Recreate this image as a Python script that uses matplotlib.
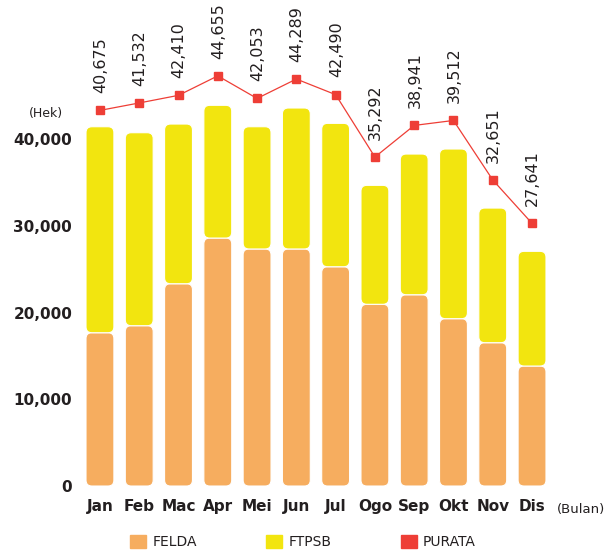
import numpy as np
import matplotlib
matplotlib.use('Agg')
import matplotlib.pyplot as plt
from matplotlib.patches import FancyBboxPatch, Patch

## data
bulan  = ['Jan', 'Feb', 'Mac', 'Apr', 'Mei', 'Jun', 'Jul', 'Ogo', 'Sep', 'Okt', 'Nov', 'Dis']
felda  = [17680, 18490, 23330, 28600, 27340, 27340, 25290, 20960, 22060, 19300, 16530, 13840]
ftpsb  = [23760, 22260, 18420, 15310, 14100, 16260, 16540, 13720, 16230, 19570, 15530, 13230]
purata = [40675, 41532, 42410, 44655, 42053, 44289, 42490, 35292, 38941, 39512, 32651, 27641]

c_felda  = '#F6AD5F'
c_ftpsb  = '#F2E50F'
c_purata = '#EE3E36'
c_text   = '#231F20'

fig = plt.figure(figsize=(6.14, 5.54), dpi=100)
ax = fig.add_axes([0.1244, 0.1227, 0.7805, 0.8412])

x = np.arange(len(bulan))
b1 = ax.bar(x, felda, width=0.71, color=c_felda)
b2 = ax.bar(x, ftpsb, width=0.71, bottom=felda, color=c_ftpsb)

ax.set_xlim(-0.6, 11.6)
ax.set_ylim(0, 53750)

# swap the plain bars for rounded ones
r = 0.15
asp = 4500
for cont, col in ((b1, c_felda), (b2, c_ftpsb)):
  for rect in cont:
    rect.set_visible(False)
    p = FancyBboxPatch((rect.get_x(), rect.get_y()), rect.get_width(), rect.get_height(),
                       boxstyle='round,pad=0,rounding_size=%f' % r, mutation_aspect=asp,
                       facecolor=col, edgecolor='white', linewidth=0.8)
    ax.add_patch(p)

# purata line sits on its own (shifted) scale in the original
ax2 = ax.twinx()
ax2.set_ylim(0 - 2650, 53750 - 2650)
ax2.plot(x, purata, color=c_purata, lw=0.9, marker='s', ms=5.5, mec=c_purata, mfc=c_purata)
for i, v in enumerate(purata):
  ax2.annotate('{:,}'.format(v), (x[i], v), xytext=(0.5, 12.5), textcoords='offset points',
               rotation=90, ha='center', va='bottom', fontsize=11.5, color=c_text)

for a in (ax, ax2):
  for s in a.spines.values():
    s.set_visible(False)
  a.tick_params(length=0)
ax2.set_yticks([])

ax.set_yticks([0, 10000, 20000, 30000, 40000])
ax.set_yticklabels(['0', '10,000', '20,000', '30,000', '40,000'], fontsize=11, fontweight='bold', color=c_text)
ax.tick_params(axis='y', pad=3)
ax.set_xticks(x)
ax.set_xticklabels(bulan, fontsize=11, fontweight='bold', color=c_text)
ax.tick_params(axis='x', pad=9)

fig.text(0.075, 0.796, '(Hek)', fontsize=9, ha='center', va='center', color=c_text)
fig.text(0.946, 0.081, '(Bulan)', fontsize=9.5, ha='center', va='center', color=c_text)

handles = [Patch(color=c_felda), Patch(color=c_ftpsb), Patch(color=c_purata)]
fig.legend(handles, ['FELDA', 'FTPSB', 'PURATA'], loc='center', bbox_to_anchor=(0.4935, 0.0217),
           ncol=3, frameon=False, fontsize=10, handlelength=1.15, handleheight=1.15,
           handletextpad=0.43, columnspacing=5.0, labelcolor=c_text)

fig.savefig('out.png', dpi=100)
